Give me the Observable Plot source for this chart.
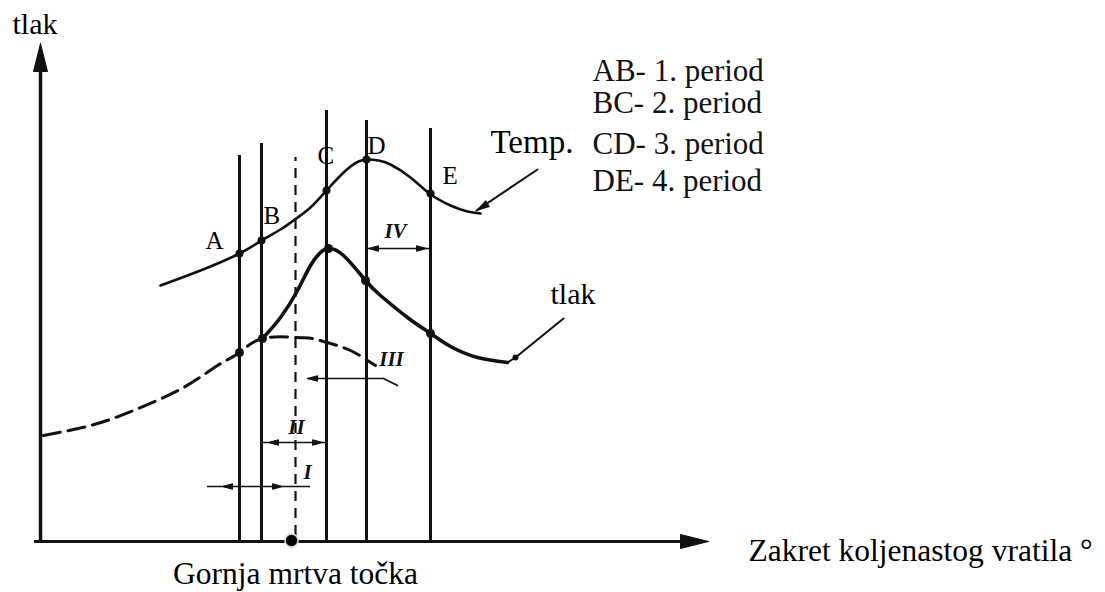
<!DOCTYPE html>
<html><head><meta charset="utf-8">
<script src="https://cdn.jsdelivr.net/npm/d3@7"></script>
<script src="https://cdn.jsdelivr.net/npm/@observablehq/plot@0.6"></script>
<style>body{margin:0;background:#fff;overflow:hidden}</style>
</head><body><div id="chart"></div>
<script>
// Chart units: x = crank angle (arbitrary units, origin at the y axis), y = value (origin at the x axis)
const periodPoints = ["A", "B", "C", "D", "E"];
const periodAngles = [199, 221, 286, 326, 390];
const periodLineTops = [386, 398, 431, 421, 413];
const tdcAngle = 255;
const tdcLineTop = 384;

// Temperature curve
const tempAngle = [120, 160, 199, 221, 240, 253, 270, 286, 300, 310, 318, 327, 338, 350, 370, 389, 410, 427, 440];
const tempValue = [256, 271, 288, 301, 312, 321, 334, 351, 366, 375, 380, 382, 381, 377, 364, 348, 336, 330, 328];
const tempAtPoints = [288, 301, 351, 382, 348];

// Pressure curve (combustion, solid)
const pressAngle = [222, 240, 257, 270, 280, 288, 303, 325, 340, 367, 390, 410, 437, 467];
const pressValue = [203, 224, 251, 276, 289, 293, 286, 261, 246, 224, 208, 195, 184, 179];
const pressDotAngle = [222, 288, 325, 390];
const pressDotValue = [203, 293, 261, 208];

// Compression/expansion pressure without combustion (dashed)
const motorAngle = [3, 50, 93, 143, 177, 199, 222, 257, 272, 290, 310, 327, 335];
const motorValue = [106, 116, 131, 154, 176, 189, 203, 204, 203, 198, 191, 181, 176];
const motorDotAngle = [199];
const motorDotValue = [189];

// Period spans (I..IV)
const spanNames = ["I", "II", "III", "IV"];
const spanFrom = [167, 221, 267, 326];
const spanTo = [270, 286, 343, 390];
const spanHeadL = [182, 228, 267, 328];
const spanHeadR = [242, 282, null, 386];
const spanLevel = [55, 99, 163, 293];
const spanLabelX = [267, 256, 351, 355];
const spanLabelY = [63, 108, 176, 304];

// Legend
const legendLines = ["AB- 1. period", "BC- 2. period", "CD- 3. period", "DE- 4. period"];
const legendY = [461, 429, 388, 351];
const legendX = 552;

const letterX = [165, 223, 277, 327, 402];
const letterY = [293, 318, 378, 388, 358];

const axisYTop = 498;
const axisXEnd = 668;

const tdcDot = [{x: 251, y: 1}];

// ---- build tables
const temp = tempAngle.map((x, i) => ({x, y: tempValue[i]}));
const press = pressAngle.map((x, i) => ({x, y: pressValue[i]}));
const motor = motorAngle.map((x, i) => ({x, y: motorValue[i]}));
const vlines = periodAngles.map((x, i) => ({x, top: periodLineTops[i]}));
const tempDots = periodAngles.map((x, i) => ({x, y: tempAtPoints[i]}));
const pDots = pressDotAngle.map((x, i) => ({x, y: pressDotValue[i]})).concat(motorDotAngle.map((x, i) => ({x, y: motorDotValue[i]})));
const letters = periodPoints.map((t, i) => ({t, x: letterX[i], y: letterY[i]}));
const legend = legendLines.map((t, i) => ({t, x: legendX, y: legendY[i]}));
const spans = spanNames.map((n, i) => ({n, x1: spanFrom[i], x2: spanTo[i], y: spanLevel[i], lx: spanLabelX[i], ly: spanLabelY[i]}));

// filled arrowheads (triangles) computed from a tip point and a direction
function head(id, tx, ty, dx, dy, len, hw) {
  const bx = tx - dx * len, by = ty - dy * len;
  return [{id, x: tx, y: ty}, {id, x: bx - dy * hw, y: by + dx * hw}, {id, x: bx + dy * hw, y: by - dx * hw}, {id, x: tx, y: ty}];
}
const heads = head("y", 0, axisYTop, 0, 1, 28, 7).concat(head("x", axisXEnd, 0, 1, 0, 28, 7));
let spanHeads = [];
spanNames.forEach((n, i) => {
  spanHeads = spanHeads.concat(head(n + "L", spanHeadL[i], spanLevel[i], -1, 0, 10, 2.8));
  if (spanHeadR[i] != null) spanHeads = spanHeads.concat(head(n + "R", spanHeadR[i], spanLevel[i], 1, 0, 10, 2.8));
});
const hook = [{x: 343, y: 163}, {x: 357, y: 156}];
const tempLeader = head("t", 436, 331, -0.85, -0.53, 13, 3.5);

const serif = "Liberation Serif, Times New Roman, serif";

const chart = Plot.plot({
  width: 1105, height: 592,
  marginTop: 0, marginBottom: 0, marginLeft: 0, marginRight: 0,
  x: {domain: [-40, 1065], range: [0, 1105], axis: null},
  y: {domain: [-51, 541], range: [592, 0], axis: null},
  style: {background: "#fff", fontFamily: serif},
  marks: [
    // axes
    Plot.ruleX([0], {y1: -2, y2: axisYTop - 20, strokeWidth: 3.5, stroke: "#111"}),
    Plot.ruleY([0], {x1: -6, x2: axisXEnd - 20, strokeWidth: 3, stroke: "#111"}),
    Plot.line(heads, {x: "x", y: "y", z: "id", fill: "#111", stroke: "#111", strokeWidth: 1}),
    // period boundaries
    Plot.ruleX(vlines, {x: "x", y1: 0, y2: "top", strokeWidth: 3, stroke: "#111"}),
    Plot.ruleX([tdcAngle], {y1: 6, y2: tdcLineTop, strokeWidth: 2.2, stroke: "#111", strokeDasharray: "10,7"}),
    // curves
    Plot.line(motor, {x: "x", y: "y", curve: "natural", strokeWidth: 3, stroke: "#111", strokeDasharray: "17,8"}),
    Plot.line(temp, {x: "x", y: "y", curve: "natural", strokeWidth: 2.6, stroke: "#111"}),
    Plot.line(press, {x: "x", y: "y", curve: "natural", strokeWidth: 3.6, stroke: "#111"}),
    // leaders
    Plot.line([{x: 467, y: 179}, {x: 475, y: 184}, {x: 523, y: 223}], {x: "x", y: "y", strokeWidth: 2, stroke: "#111"}),
    Plot.dot([{x: 475, y: 184}], {x: "x", y: "y", r: 3, fill: "#111"}),
    Plot.line([{x: 497, y: 372}, {x: 436, y: 331}], {x: "x", y: "y", strokeWidth: 2, stroke: "#111"}),
    Plot.line(tempLeader, {x: "x", y: "y", z: "id", fill: "#111", stroke: "#111", strokeWidth: 1}),
    // dots
    Plot.dot(tempDots, {x: "x", y: "y", r: 4, fill: "#111"}),
    Plot.dot(pDots, {x: "x", y: "y", r: 4.5, fill: "#111"}),
    // spans
    Plot.ruleY(spans, {x1: "x1", x2: "x2", y: "y", strokeWidth: 1.7, stroke: "#111"}),
    Plot.line(spanHeads, {x: "x", y: "y", z: "id", fill: "#111", stroke: "#111", strokeWidth: 1}),
    Plot.line(hook, {x: "x", y: "y", strokeWidth: 1.7, stroke: "#111"}),
    Plot.text(spans, {x: "lx", y: "ly", text: "n", fontSize: 21, fontStyle: "italic", fontWeight: "bold", fontFamily: serif, lineAnchor: "bottom", fill: "#111"}),
    // TDC marker
    Plot.dot(tdcDot, {x: "x", y: "y", r: 6.5, fill: "#000", stroke: "#ddd", strokeWidth: 1.5}),
    // letters
    Plot.text(letters, {x: "x", y: "y", text: "t", fontSize: 25, fontFamily: serif, textAnchor: "start", lineAnchor: "bottom", fill: "#000"}),
    // legend
    Plot.text(legend, {x: "x", y: "y", text: "t", fontSize: 31, fontFamily: serif, textAnchor: "start", lineAnchor: "bottom", fill: "#111"}),
    // labels
    Plot.text([{t: "Temp.", x: 450, y: 389}], {x: "x", y: "y", text: "t", fontSize: 33, fontFamily: serif, textAnchor: "start", lineAnchor: "bottom"}),
    Plot.text([{t: "tlak", x: 510, y: 238}], {x: "x", y: "y", text: "t", fontSize: 30, fontFamily: serif, textAnchor: "start", lineAnchor: "bottom"}),
    Plot.text([{t: "tlak", x: -28, y: 508}], {x: "x", y: "y", text: "t", fontSize: 30, fontFamily: serif, textAnchor: "start", lineAnchor: "bottom"}),
    Plot.text([{t: "Zakret koljenastog vratila °", x: 708, y: -19}], {x: "x", y: "y", text: "t", fontSize: 31.5, fontFamily: serif, textAnchor: "start", lineAnchor: "bottom"}),
    Plot.text([{t: "Gornja mrtva točka", x: 255, y: -42}], {x: "x", y: "y", text: "t", fontSize: 31.5, fontFamily: serif, textAnchor: "middle", lineAnchor: "bottom"})
  ]
});
document.getElementById("chart").append(chart);
</script>
</body></html>
